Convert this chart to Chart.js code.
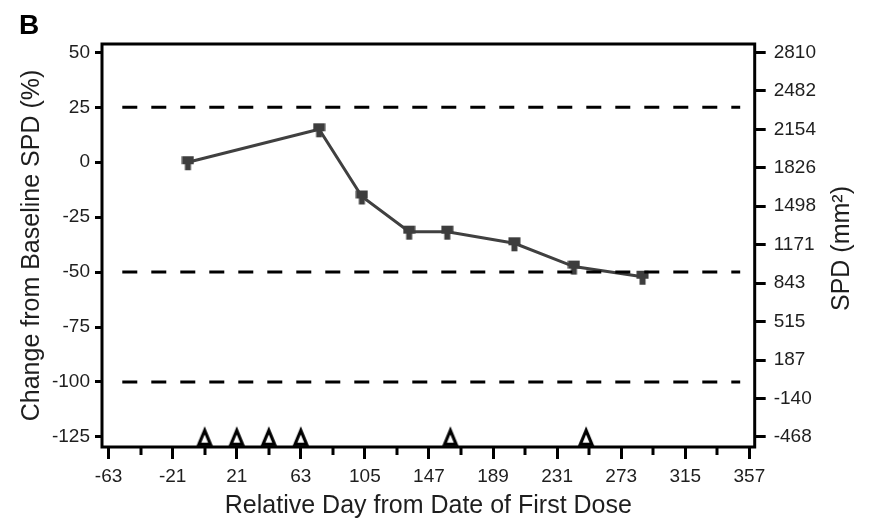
<!DOCTYPE html>
<html>
<head>
<meta charset="utf-8">
<script src="https://cdn.jsdelivr.net/npm/chart.js@4.4.1/dist/chart.umd.min.js"></script>
<style>
  html, body { margin: 0; padding: 0; background: #fff; }
  #wrap { position: relative; width: 869px; height: 523px; }
</style>
</head>
<body>
<div id="wrap"><canvas id="chart"></canvas></div>
<script>
'use strict';

// Panel B: change from baseline SPD by study day, with dosing days marked.

const studyDays = [-11, 75, 103, 134, 159, 203, 242, 287];
const spdChange = [0, 15, -15.6, -31.6, -31.6, -36.9, -47.5, -52.1];

const doseDays = [0, 21, 42, 63, 161, 250];
const doseLevel = -125;

const refLevels = [25, -50, -100];
const refSpan = [-54, 351];

const xTicks = [-63, -42, -21, 0, 21, 42, 63, 84, 105, 126, 147, 168, 189, 210, 231, 252, 273, 294, 315, 336, 357];
const xLabelled = [-63, -21, 21, 63, 105, 147, 189, 231, 273, 315, 357];
const leftTicks = [-125, -100, -75, -50, -25, 0, 25, 50];
const rightTicks = [-468, -140, 187, 515, 843, 1171, 1498, 1826, 2154, 2482, 2810];

const FONT = "'Liberation Sans', Arial, Helvetica, sans-serif";
const TEXT = '#1e1e1e';

// left % axis and right mm² axis share the same frame
const Y_MIN = -129.6, Y_MAX = 53.8;
const X_MIN = -67.3, X_MAX = 360.5;
const toSpd = (p) => rightTicks[0] + (p - leftTicks[0]) *
  (rightTicks[rightTicks.length - 1] - rightTicks[0]) / (leftTicks[leftTicks.length - 1] - leftTicks[0]);

// square marker with a short stem below it
function makeSpdMarker() {
  const c = document.createElement('canvas');
  c.width = 13; c.height = 18;
  const g = c.getContext('2d');
  g.fillStyle = '#3d3d3d';
  g.fillRect(0.5, 3, 12, 8);
  g.fillRect(3.5, 11, 6, 6);
  return c;
}

// open triangle for dosing days
function makeDoseMarker() {
  const c = document.createElement('canvas');
  c.width = 18; c.height = 24;
  const g = c.getContext('2d');
  g.strokeStyle = '#000';
  g.lineWidth = 3.2;
  g.beginPath();
  g.moveTo(9, 5.5);
  g.lineTo(3.2, 19.3);
  g.lineTo(14.8, 19.3);
  g.closePath();
  g.stroke();
  return c;
}

const framePlugin = {
  id: 'frame',
  afterDraw(chart) {
    const { ctx, chartArea: a } = chart;
    const x = chart.scales.x;
    ctx.save();

    // minor x ticks (shorter than the labelled ones)
    ctx.strokeStyle = '#000';
    ctx.lineWidth = 3;
    xTicks.filter(v => !xLabelled.includes(v)).forEach(v => {
      const px = Math.round(x.getPixelForValue(v));
      ctx.beginPath();
      ctx.moveTo(px, a.bottom);
      ctx.lineTo(px, a.bottom + 8);
      ctx.stroke();
    });

    ctx.strokeRect(a.left, a.top, a.right - a.left, a.bottom - a.top);

    // right axis title reads bottom to top
    ctx.fillStyle = TEXT;
    ctx.font = `25px ${FONT}`;
    ctx.textAlign = 'center';
    ctx.textBaseline = 'middle';
    ctx.translate(842, (a.top + a.bottom) / 2 + 3);
    ctx.rotate(-Math.PI / 2);
    ctx.fillText('SPD (mm²)', 0, 0);
    ctx.restore();

    ctx.save();
    ctx.fillStyle = '#000';
    ctx.font = `bold 28px ${FONT}`;
    ctx.textBaseline = 'alphabetic';
    ctx.fillText('B', 19, 33.5);
    ctx.restore();
  },
};

const refSets = refLevels.map(lv => ({
  data: refSpan.map(d => ({ x: d, y: lv })),
  borderColor: '#000',
  borderWidth: 3,
  borderDash: [15, 14],
  pointRadius: 0,
  fill: false,
}));

new Chart(document.getElementById('chart'), {
  type: 'line',
  data: {
    datasets: [
      ...refSets,
      {
        label: 'SPD change',
        data: studyDays.map((d, i) => ({ x: d, y: spdChange[i] })),
        borderColor: '#404040',
        borderWidth: 3,
        pointStyle: makeSpdMarker(),
        pointRadius: 6,
        tension: 0,
        fill: false,
      },
      {
        label: 'Dose',
        data: doseDays.map(d => ({ x: d, y: doseLevel })),
        showLine: false,
        pointStyle: makeDoseMarker(),
        pointRadius: 7,
        clip: false,
      },
    ],
  },
  options: {
    responsive: true,
    maintainAspectRatio: false,
    animation: false,
    events: [],
    layout: { padding: { top: 44, left: 0, right: 0, bottom: 0 } },
    plugins: { legend: { display: false }, tooltip: { enabled: false } },
    scales: {
      x: {
        type: 'linear',
        min: X_MIN,
        max: X_MAX,
        afterBuildTicks: (s) => { s.ticks = xTicks.map(v => ({ value: v })); },
        afterFit: (s) => { s.height = 76; },
        border: { display: false },
        grid: {
          drawOnChartArea: false,
          tickLength: 12,
          tickWidth: 3,
          tickColor: (c) => xLabelled.includes(c.tick.value) ? '#000' : 'rgba(0,0,0,0)',
        },
        ticks: {
          color: TEXT,
          padding: 6,
          maxRotation: 0,
          autoSkip: false,
          font: { family: FONT, size: 19 },
          callback: (v) => xLabelled.includes(v) ? String(v) : '',
        },
        title: {
          display: true,
          text: 'Relative Day from Date of First Dose',
          color: TEXT,
          font: { family: FONT, size: 25 },
          padding: { top: 0, bottom: 2 },
        },
      },
      y: {
        position: 'left',
        min: Y_MIN,
        max: Y_MAX,
        afterBuildTicks: (s) => { s.ticks = leftTicks.map(v => ({ value: v })); },
        afterFit: (s) => { s.width = 102; },
        border: { display: false },
        grid: { drawOnChartArea: false, tickLength: 7, tickWidth: 3, tickColor: '#000' },
        ticks: { color: TEXT, padding: 5, font: { family: FONT, size: 19 } },
        title: {
          display: true,
          text: 'Change from Baseline SPD (%)',
          color: TEXT,
          font: { family: FONT, size: 25 },
          padding: { top: 17, bottom: 0 },
        },
      },
      y1: {
        position: 'right',
        min: toSpd(Y_MIN),
        max: toSpd(Y_MAX),
        afterBuildTicks: (s) => { s.ticks = rightTicks.map(v => ({ value: v })); },
        afterFit: (s) => { s.width = 114.3; },
        border: { display: false },
        grid: { drawOnChartArea: false, tickLength: 11, tickWidth: 3, tickColor: '#000' },
        ticks: { color: TEXT, padding: 8, font: { family: FONT, size: 19 }, callback: (v) => String(v) },
      },
    },
  },
  plugins: [framePlugin],
});
</script>
</body>
</html>
